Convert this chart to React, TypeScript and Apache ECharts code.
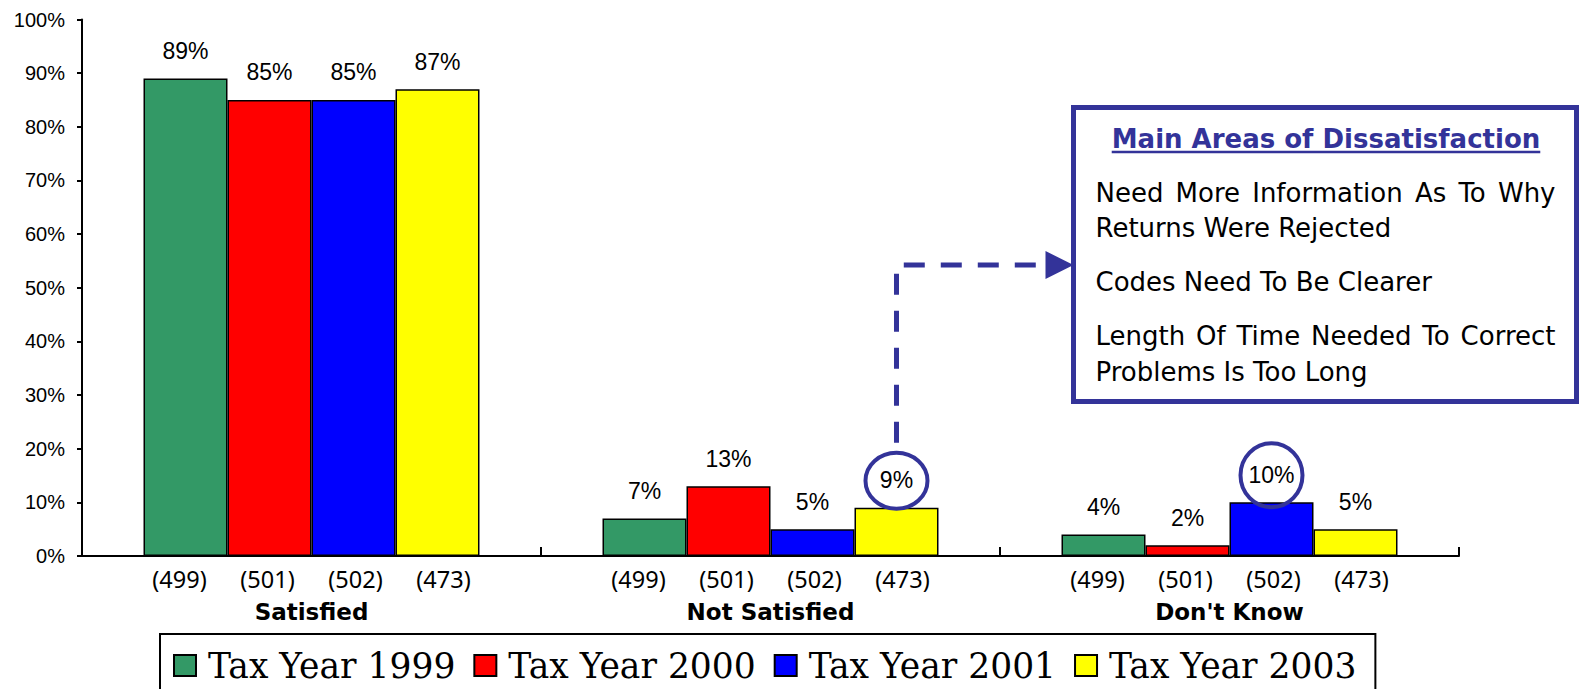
import React, { useEffect, useRef } from 'react';
import * as echarts from 'echarts';

const categories = ['Satisfied', 'Not Satisfied', "Don't Know"];
const seriesNames = ['Tax Year 1999', 'Tax Year 2000', 'Tax Year 2001', 'Tax Year 2003'];
const sampleSizes = [499, 501, 502, 473];
const values1999 = [89, 7, 4];
const values2000 = [85, 13, 2];
const values2001 = [85, 5, 10];
const values2003 = [87, 9, 5];
const seriesValues = [values1999, values2000, values2001, values2003];
const seriesColors = ['#339966', '#FF0000', '#0000FF', '#FFFF00'];
const yMin = 0;
const yMax = 100;
const yInterval = 10;

const calloutTitle = 'Main Areas of Dissatisfaction';
const calloutLines = [
  { text: 'Need More Information As To Why', justify: true },
  { text: 'Returns Were Rejected', justify: false },
  { text: 'Codes Need To Be Clearer', justify: false },
  { text: 'Length Of Time Needed To Correct', justify: true },
  { text: 'Problems Is Too Long', justify: false },
];
// highlighted bars: [seriesIndex, categoryIndex]
const highlighted = [
  { series: 3, category: 1, rx: 31, ry: 28 },
  { series: 2, category: 2, rx: 31, ry: 32 },
];

const ACCENT = '#333399';

export default function App() {
  const ref = useRef<HTMLDivElement>(null);
  useEffect(() => {
    if (!ref.current) return;
    const chart = echarts.init(ref.current, undefined, { renderer: 'svg' });
    chart.setOption({
      animation: false,
      backgroundColor: '#fff',
      grid: { left: 82, right: 120, top: 19.5, bottom: 133 },
      legend: {
        data: seriesNames,
        left: 160,
        top: 634,
        orient: 'horizontal',
        icon: 'rect',
        itemWidth: 22,
        itemHeight: 21,
        itemGap: 18,
        padding: [14, 19, 30, 13],
        borderColor: '#000',
        borderWidth: 2,
        textStyle: { fontFamily: 'DejaVu Serif', fontSize: 34.5, color: '#000', padding: [0, 0, 0, 7] },
      },
      xAxis: {
        type: 'category',
        data: categories,
        axisLine: { lineStyle: { color: '#000', width: 2 } },
        axisTick: { show: true, inside: true, length: 9, lineStyle: { color: '#000', width: 2 } },
        axisLabel: {
          interval: 0,
          margin: 11,
          formatter: (value: string) =>
            sampleSizes.map((n) => '{s|(' + n + ')}').join('') + '\n{c|' + value + '}',
          rich: {
            s: { width: 88, align: 'center', fontFamily: 'Noto Sans', fontSize: 23.5, lineHeight: 24, color: '#000' },
            c: { align: 'center', fontFamily: 'DejaVu Sans', fontWeight: 'bold', fontSize: 23, lineHeight: 41, color: '#000' },
          },
        },
      },
      yAxis: {
        type: 'value',
        min: yMin,
        max: yMax,
        interval: yInterval,
        splitLine: { show: false },
        axisLine: { show: true, lineStyle: { color: '#000', width: 2 } },
        axisTick: { show: true, length: 5, lineStyle: { color: '#000', width: 2 } },
        axisLabel: { formatter: '{value}%', margin: 17, fontFamily: 'Liberation Sans', fontSize: 20, color: '#000' },
      },
      series: seriesValues.map((vals, i) => ({
        name: seriesNames[i],
        type: 'bar',
        data: vals,
        barGap: '0%',
        barCategoryGap: '26.8%',
        itemStyle: { color: seriesColors[i], borderColor: '#000', borderWidth: 1.5 },
        label: {
          show: true,
          position: 'top',
          distance: 16,
          formatter: '{c}%',
          fontFamily: 'Liberation Sans',
          fontSize: 23,
          color: '#000',
        },
      })),
    });

    // Annotations positioned from the library's bar layout
    const model = (chart as any).getModel();
    const barLayout = (s: number, c: number) => {
      const l = model.getSeriesByIndex(s).getData().getItemLayout(c);
      return { cx: l.x + l.width / 2, top: Math.min(l.y, l.y + l.height) };
    };
    const graphics: any[] = [];
    const circles = highlighted.map((h) => {
      const b = barLayout(h.series, h.category);
      return { cx: b.cx, cy: b.top - 27, rx: h.rx, ry: h.ry };
    });
    circles.forEach((c) => {
      graphics.push({
        type: 'ellipse',
        shape: { cx: c.cx, cy: c.cy, rx: c.rx, ry: c.ry },
        style: { fill: 'none', stroke: ACCENT, lineWidth: 4 },
        z: 100,
      });
    });

    // Callout box
    const box = { x: 1073.5, y: 107.5, w: 503, h: 294 };
    const arrowY = 265;
    const c0 = circles[0];
    graphics.push({
      type: 'polyline',
      shape: { points: [[c0.cx, c0.cy - c0.ry - 10], [c0.cx, arrowY], [box.x - 27, arrowY]] },
      style: { fill: 'none', stroke: ACCENT, lineWidth: 5, lineDash: [21, 16] },
      z: 100,
    });
    graphics.push({
      type: 'polygon',
      shape: { points: [[box.x - 28, arrowY - 14], [box.x, arrowY], [box.x - 28, arrowY + 14]] },
      style: { fill: ACCENT, stroke: 'none' },
      z: 100,
    });
    graphics.push({
      type: 'rect',
      shape: { x: box.x, y: box.y, width: box.w, height: box.h },
      style: { fill: '#fff', stroke: ACCENT, lineWidth: 5 },
      z: 100,
    });

    const canvas = document.createElement('canvas');
    const ctx = canvas.getContext('2d') as CanvasRenderingContext2D;
    ctx.font = 'bold 26px "DejaVu Sans"';
    const titleW = ctx.measureText(calloutTitle).width;
    const titleCx = box.x + box.w / 2 + 1;
    graphics.push({
      type: 'text',
      x: titleCx,
      y: 139,
      style: {
        text: calloutTitle,
        fill: ACCENT,
        fontFamily: 'DejaVu Sans',
        fontWeight: 'bold',
        fontSize: 26,
        textAlign: 'center',
        textVerticalAlign: 'middle',
      },
      z: 101,
    });
    graphics.push({
      type: 'line',
      shape: { x1: titleCx - titleW / 2, y1: 152, x2: titleCx + titleW / 2, y2: 152 },
      style: { stroke: ACCENT, lineWidth: 2.5 },
      z: 101,
    });

    const bodySize = 26;
    ctx.font = bodySize + 'px "DejaVu Sans"';
    const lineYs = [193, 228, 282, 336, 372];
    const textX = 1095.5;
    const justifyW = 460;
    calloutLines.forEach((ln, i) => {
      const baseStyle = {
        fill: '#000',
        fontFamily: 'DejaVu Sans',
        fontSize: bodySize,
        textAlign: 'left',
        textVerticalAlign: 'middle',
      };
      if (ln.justify) {
        const words = ln.text.split(' ');
        const widths = words.map((w) => ctx.measureText(w).width);
        const total = widths.reduce((a, b) => a + b, 0);
        const gap = (justifyW - total) / (words.length - 1);
        let cx = textX;
        words.forEach((w, k) => {
          graphics.push({ type: 'text', x: cx, y: lineYs[i], style: { ...baseStyle, text: w }, z: 101 });
          cx += widths[k] + gap;
        });
      } else {
        graphics.push({ type: 'text', x: textX, y: lineYs[i], style: { ...baseStyle, text: ln.text }, z: 101 });
      }
    });

    chart.setOption({ graphic: graphics });

    return () => chart.dispose();
  }, []);
  return <div ref={ref} style={{ position: 'fixed', left: 0, top: 0, width: 1579, height: 689 }} />;
}
